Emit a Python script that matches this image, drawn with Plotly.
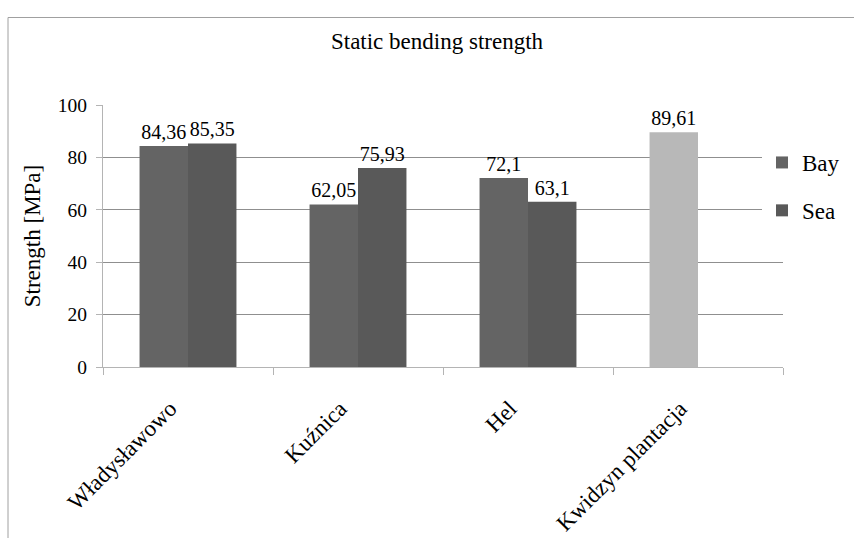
import plotly.graph_objects as go

categories = ["Władysławowo", "Kuźnica", "Hel", "Kwidzyn plantacja"]
bay_values = [84.36, 62.05, 72.1, 89.61]
sea_values = [85.35, 75.93, 63.1, None]
y_ticks = [0, 20, 40, 60, 80, 100]

def fmt(v):
    if v is None:
        return ""
    s = ("%.2f" % v).rstrip("0").rstrip(".")
    return s.replace(".", ",")

FONT = "'Liberation Serif', 'Times New Roman', 'DejaVu Serif', serif"
bay_colors = ["#646464", "#646464", "#646464", "#b8b8b8"]

fig = go.Figure()
fig.add_trace(go.Bar(
    name="Bay", x=categories, y=bay_values,
    marker=dict(color=bay_colors, line=dict(width=0)),
    text=[fmt(v) for v in bay_values], textposition="outside",
    textfont=dict(family=FONT, size=20, color="black"),
    cliponaxis=False, legendgroup="bay",
))
fig.add_trace(go.Bar(
    name="Sea", x=categories, y=sea_values,
    marker=dict(color="#595959", line=dict(width=0)),
    text=[fmt(v) for v in sea_values], textposition="outside",
    textfont=dict(family=FONT, size=20, color="black"),
    cliponaxis=False, legendgroup="sea",
))

fig.update_layout(
    width=854, height=538,
    margin=dict(l=103, r=71, t=105, b=171, autoexpand=False),
    paper_bgcolor="white", plot_bgcolor="white",
    barmode="group", bargap=0.43, bargroupgap=0,
    font=dict(family=FONT, color="black"),
    title=dict(text="Static bending strength", x=437/854, xref="container",
               xanchor="center", y=1 - 41/538, yref="container", yanchor="middle",
               font=dict(family=FONT, size=23, color="black")),
    legend=dict(x=(762-103)/680, xanchor="left", y=(367-141)/262, yanchor="top",
                bgcolor="white", borderwidth=0, font=dict(family=FONT, size=23),
                traceorder="grouped", tracegroupgap=15),
    showlegend=True,
)
fig.update_yaxes(
    range=[0, 100], tickvals=y_ticks, ticktext=[str(t) for t in y_ticks],
    showgrid=True, gridcolor="#8f8f8f", gridwidth=1, zeroline=False,
    showline=True, linecolor="#b4b4b4", linewidth=1,
    ticks="outside", ticklen=6, tickcolor="#b4b4b4", ticklabelstandoff=5,
    tickfont=dict(family=FONT, size=19.5, color="black"),
    title=dict(text="Strength [MPa]", font=dict(family=FONT, size=23, color="black"), standoff=10),
    automargin=False, fixedrange=True,
)
fig.update_xaxes(
    type="category", showgrid=False, zeroline=False,
    showline=True, linecolor="#b4b4b4", linewidth=1,
    ticks="outside", tickson="boundaries", ticklen=7, tickcolor="#b4b4b4",
    tickangle=-45, ticklabelstandoff=18, ticklabelshift=-18,
    tickfont=dict(family=FONT, size=23, color="black"),
    automargin=False, fixedrange=True,
)
# chart area border
fig.add_shape(type="rect", xref="paper", yref="paper",
              x0=(8-103)/680, x1=(900-103)/680, y0=(367-600)/262, y1=(367-17.5)/262,
              line=dict(color="#a0a0a0", width=1), fillcolor="rgba(0,0,0,0)", layer="below")

fig.write_html("out.html", config={"displayModeBar": False},
               post_script="document.body.style.margin='0';document.body.style.overflow='hidden';")
